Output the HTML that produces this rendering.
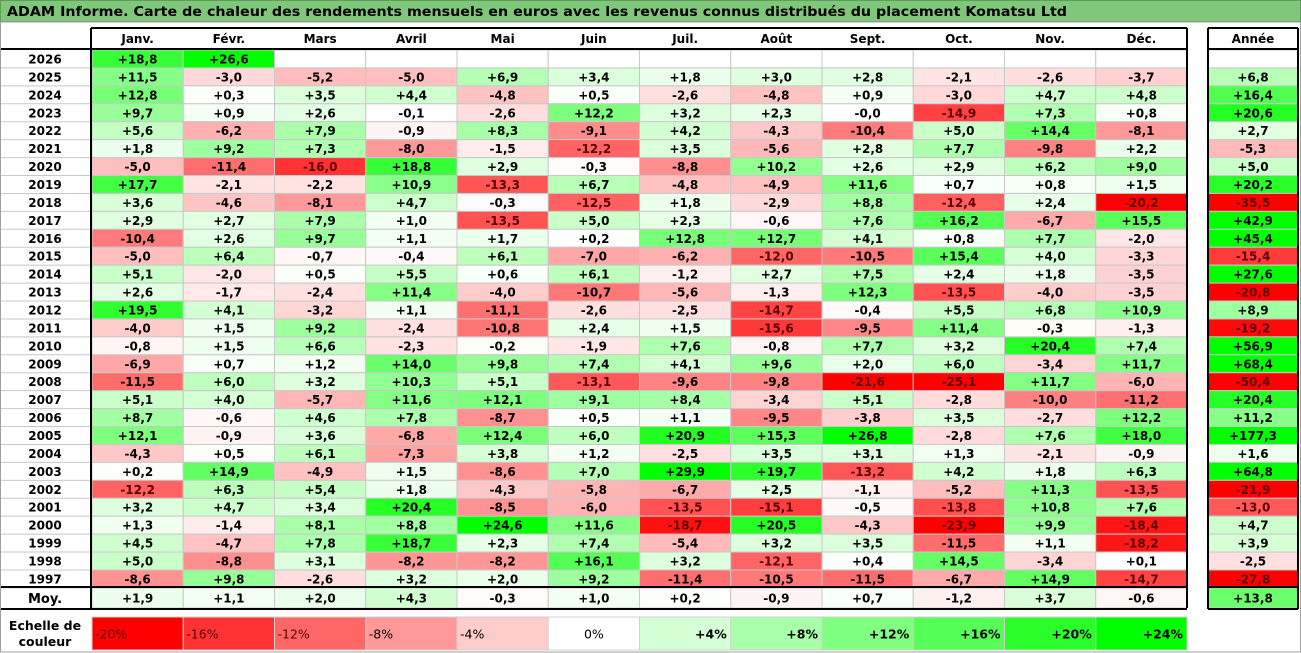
<!DOCTYPE html>
<html><head><meta charset="utf-8"><style>
html,body{margin:0;padding:0;background:#fff;}
svg{display:block;font-family:"DejaVu Sans","Liberation Sans",sans-serif;}
</style></head><body>
<svg id="chart" width="1301" height="653" viewBox="0 0 1301 653" xmlns="http://www.w3.org/2000/svg">
<rect x="0" y="0" width="1301" height="653" fill="#fff"/>
<rect x="0.5" y="0.5" width="1300" height="21" fill="#7fc87b" stroke="#5e9e5a"/>
<text x="7" y="16" font-size="13" font-weight="bold" fill="#000" textLength="1060" lengthAdjust="spacingAndGlyphs">ADAM Informe. Carte de chaleur des rendements mensuels en euros avec les revenus connus distribués du placement Komatsu Ltd</text>
<g id="cells"></g>
<g id="lines"></g>
</svg>
<script>
const months=["Janv.","Févr.","Mars","Avril","Mai","Juin","Juil.","Août","Sept.","Oct.","Nov.","Déc."];
const years=["2026","2025","2024","2023","2022","2021","2020","2019","2018","2017","2016","2015","2014","2013","2012","2011","2010","2009","2008","2007","2006","2005","2004","2003","2002","2001","2000","1999","1998","1997"];
const monthly=[
[18.8,26.6,null,null,null,null,null,null,null,null,null,null],
[11.5,-3.0,-5.2,-5.0,6.9,3.4,1.8,3.0,2.8,-2.1,-2.6,-3.7],
[12.8,0.3,3.5,4.4,-4.8,0.5,-2.6,-4.8,0.9,-3.0,4.7,4.8],
[9.7,0.9,2.6,-0.1,-2.6,12.2,3.2,2.3,-0.0,-14.9,7.3,0.8],
[5.6,-6.2,7.9,-0.9,8.3,-9.1,4.2,-4.3,-10.4,5.0,14.4,-8.1],
[1.8,9.2,7.3,-8.0,-1.5,-12.2,3.5,-5.6,2.8,7.7,-9.8,2.2],
[-5.0,-11.4,-16.0,18.8,2.9,-0.3,-8.8,10.2,2.6,2.9,6.2,9.0],
[17.7,-2.1,-2.2,10.9,-13.3,6.7,-4.8,-4.9,11.6,0.7,0.8,1.5],
[3.6,-4.6,-8.1,4.7,-0.3,-12.5,1.8,-2.9,8.8,-12.4,2.4,-20.2],
[2.9,2.7,7.9,1.0,-13.5,5.0,2.3,-0.6,7.6,16.2,-6.7,15.5],
[-10.4,2.6,9.7,1.1,1.7,0.2,12.8,12.7,4.1,0.8,7.7,-2.0],
[-5.0,6.4,-0.7,-0.4,6.1,-7.0,-6.2,-12.0,-10.5,15.4,4.0,-3.3],
[5.1,-2.0,0.5,5.5,0.6,6.1,-1.2,2.7,7.5,2.4,1.8,-3.5],
[2.6,-1.7,-2.4,11.4,-4.0,-10.7,-5.6,-1.3,12.3,-13.5,-4.0,-3.5],
[19.5,4.1,-3.2,1.1,-11.1,-2.6,-2.5,-14.7,-0.4,5.5,6.8,10.9],
[-4.0,1.5,9.2,-2.4,-10.8,2.4,1.5,-15.6,-9.5,11.4,-0.3,-1.3],
[-0.8,1.5,6.6,-2.3,-0.2,-1.9,7.6,-0.8,7.7,3.2,20.4,7.4],
[-6.9,0.7,1.2,14.0,9.8,7.4,4.1,9.6,2.0,6.0,-3.4,11.7],
[-11.5,6.0,3.2,10.3,5.1,-13.1,-9.6,-9.8,-21.6,-25.1,11.7,-6.0],
[5.1,4.0,-5.7,11.6,12.1,9.1,8.4,-3.4,5.1,-2.8,-10.0,-11.2],
[8.7,-0.6,4.6,7.8,-8.7,0.5,1.1,-9.5,-3.8,3.5,-2.7,12.2],
[12.1,-0.9,3.6,-6.8,12.4,6.0,20.9,15.3,26.8,-2.8,7.6,18.0],
[-4.3,0.5,6.1,-7.3,3.8,1.2,-2.5,3.5,3.1,1.3,-2.1,-0.9],
[0.2,14.9,-4.9,1.5,-8.6,7.0,29.9,19.7,-13.2,4.2,1.8,6.3],
[-12.2,6.3,5.4,1.8,-4.3,-5.8,-6.7,2.5,-1.1,-5.2,11.3,-13.5],
[3.2,4.7,3.4,20.4,-8.5,-6.0,-13.5,-15.1,-0.5,-13.8,10.8,7.6],
[1.3,-1.4,8.1,8.8,24.6,11.6,-18.7,20.5,-4.3,-23.9,9.9,-18.4],
[4.5,-4.7,7.8,18.7,2.3,7.4,-5.4,3.2,3.5,-11.5,1.1,-18.2],
[5.0,-8.8,3.1,-8.2,-8.2,16.1,3.2,-12.1,0.4,14.5,-3.4,0.1],
[-8.6,9.8,-2.6,3.2,2.0,9.2,-11.4,-10.5,-11.5,-6.7,14.9,-14.7]
];
const annual=[null,6.8,16.4,20.6,2.7,-5.3,5.0,20.2,-35.5,42.9,45.4,-15.4,27.6,-20.8,8.9,-19.2,56.9,68.4,-50.4,20.4,11.2,177.3,1.6,64.8,-21.9,-13.0,4.7,3.9,-2.5,-27.8];
const averages=[1.9,1.1,2.0,4.3,-0.3,1.0,0.2,-0.9,0.7,-1.2,3.7,-0.6];
const avgAnnual=13.8;
const scaleValues=[-20,-16,-12,-8,-4,0,4,8,12,16,20,24];

const NS="http://www.w3.org/2000/svg";
const cells=document.getElementById('cells'), lines=document.getElementById('lines');
const X0=92, CW=91.25, Y0=50, RH=17.93, AX=1208, AW=90;
function colX(i){return X0+i*CW;}
function rowY(r){return Y0+r*RH;}
function color(v){
  if(v==null) return "#ffffff";
  let r,g,b;
  if(v<0){const t=Math.min(1,-v/20);r=255;g=b=Math.round(255*(1-t));}
  else{const t=Math.min(1,v/24);g=255;r=b=Math.round(255*(1-t));}
  return `rgb(${r},${g},${b})`;
}
function fmt(v){const s=Math.abs(v).toFixed(1).replace('.',',');return (v<0||Object.is(v,-0)?'-':'+')+s;}
function mk(tag,attrs,parent){const e=document.createElementNS(NS,tag);for(const k in attrs)e.setAttribute(k,attrs[k]);(parent||cells).appendChild(e);return e;}
function txt(x,y,s,anchor,size,parent){const t=mk('text',{x:x,y:y,'text-anchor':anchor||'middle','font-size':size||12,'font-weight':'bold',fill:'#000'},parent);t.textContent=s;return t;}
function cell(x,y,w,h,v,name){
  const r=mk('rect',{x:x,y:y,width:w,height:h,fill:color(v),stroke:'#c8c8c8','stroke-width':1});
  
  
  if(v!=null){const t=txt(x+w/2,y+h/2+4.5,fmt(v));
    if(v<=-12) t.setAttribute('fill','#5a0000');
    
    }
}
months.forEach((m,i)=>{const t=txt(colX(i)+CW/2,43,m);
  
  });
const ah=txt(AX+AW/2,43,"Année");


years.forEach((y,r)=>{
  const yt=txt(45,rowY(r)+RH/2+4.5,y);
  
  
  mk('line',{x1:0,y1:rowY(r)+RH,x2:91,y2:rowY(r)+RH,stroke:'#c8c8c8'});
  monthly[r].forEach((v,i)=>cell(colX(i),rowY(r),CW,RH,v,'cell-'+y+'-'+i));
  cell(AX,rowY(r),AW,RH,annual[r],'annual-'+y);
});
const MY=588, MH=20;
const mt=txt(45,MY+15,"Moy.",'middle',13);


averages.forEach((v,i)=>cell(colX(i),MY,CW,MH,v,'average-'+i));
cell(AX,MY,AW,MH,avgAnnual,'average-annual');
const LY=617, LH=33;
const l1=txt(45,LY+13,"Echelle de",'middle',12.5);


txt(45,LY+29,"couleur",'middle',12.5);
scaleValues.forEach((v,i)=>{
  const x=colX(i);
  const r=mk('rect',{x:x,y:LY,width:CW,height:LH,fill:color(v),stroke:'#d0d0d0'});
  
  
  const lab=(v>0?'+':'')+v+'%';
  const anchor=v<0?'start':(v===0?'middle':'end');
  const tx=v<0?x+3:(v===0?x+CW/2:x+CW-4);
  const t=mk('text',{x:tx,y:LY+LH/2+5,'text-anchor':anchor,'font-size':12.5,'font-weight':v>0?'bold':'normal',fill:v<=-12?'#5a0000':'#000'});
  t.textContent=lab;
  
  
});
const B={stroke:'#000','stroke-width':2};
const R=colX(12);
[[91,28,R,28],[91,28,91,MY+MH],[R,28,R,MY+MH],[91,Y0-1,R,Y0-1],[0,MY-1,R,MY-1],[0,MY+MH+1,R,MY+MH+1],
 [AX,28,AX+AW,28],[AX,28,AX,MY+MH+1],[AX+AW,28,AX+AW,MY+MH+1],[AX,Y0-1,AX+AW,Y0-1],[AX,MY-1,AX+AW,MY-1],[AX,MY+MH+1,AX+AW,MY+MH+1]
].forEach(a=>mk('line',Object.assign({x1:a[0],y1:a[1],x2:a[2],y2:a[3]},B),lines));
mk('line',{x1:0,y1:Y0-1,x2:91,y2:Y0-1,stroke:'#000','stroke-width':2},lines);
mk('rect',{x:0.5,y:22,width:1300,height:630,fill:'none',stroke:'#a0a0a0'},lines);
</script>
</body></html>
